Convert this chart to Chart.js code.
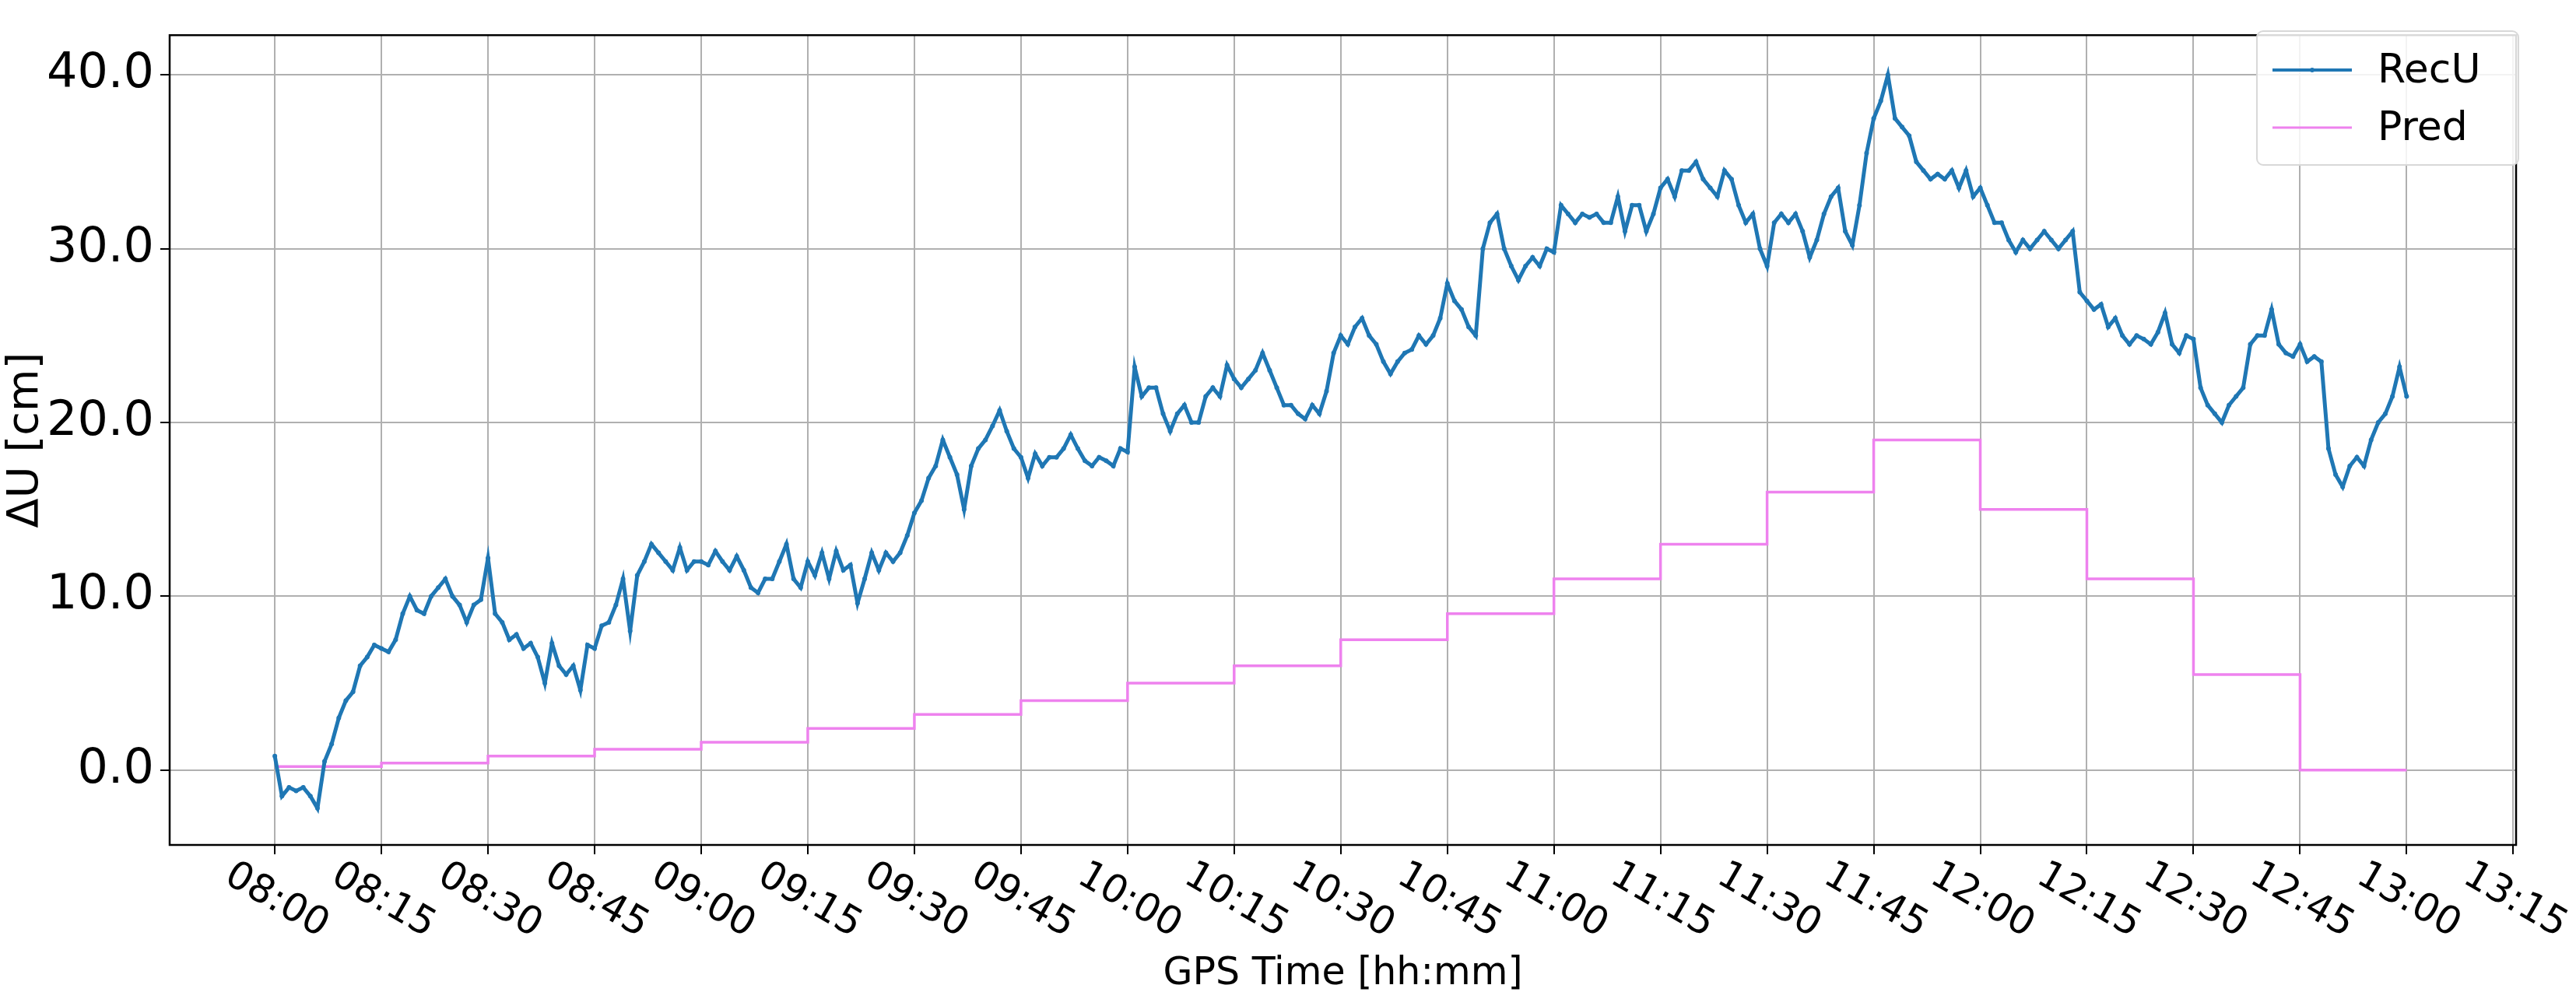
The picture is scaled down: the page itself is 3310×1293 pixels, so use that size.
<!DOCTYPE html>
<html><head><meta charset="utf-8">
<script src="https://cdn.jsdelivr.net/npm/chart.js@4"></script>
<style>html,body{margin:0;padding:0;background:#fff}#c{display:block}</style>
</head><body>
<div style="width:3310px;height:1293px"><canvas id="c" width="3310" height="1293"></canvas></div>
<script>
// minutes after 08:00
const recU = [0.8,-1.5,-1.0,-1.2,-1.0,-1.5,-2.2,0.5,1.5,3.0,4.0,4.5,6.0,6.5,7.2,7.0,6.8,7.5,9.0,10.0,9.2,9.0,10.0,10.5,11.0,10.0,9.5,8.5,9.5,9.8,
12.2,9.0,8.5,7.5,7.8,7.0,7.3,6.5,5.0,7.3,6.0,5.5,6.0,4.6,7.2,7.0,8.3,8.5,9.5,11.0,8.0,11.2,12.0,13.0,12.5,12.0,11.5,12.8,11.5,12.0,
12.0,11.8,12.6,12.0,11.5,12.3,11.5,10.5,10.2,11.0,11.0,12.0,13.0,11.0,10.5,12.0,11.2,12.5,11.0,12.6,11.5,11.8,9.6,11.0,12.5,11.5,12.5,12.0,12.5,13.5,
14.8,15.5,16.8,17.5,19.0,18.0,17.0,15.0,17.5,18.5,19.0,19.8,20.7,19.5,18.5,18.0,16.8,18.2,17.5,18.0,18.0,18.5,19.3,18.5,17.8,17.5,18.0,17.8,17.5,18.5,
18.3,23.2,21.5,22.0,22.0,20.5,19.5,20.5,21.0,20.0,20.0,21.5,22.0,21.5,23.3,22.5,22.0,22.5,23.0,24.0,23.0,22.0,21.0,21.0,20.5,20.2,21.0,20.5,21.8,24.0,
25.0,24.5,25.5,26.0,25.0,24.5,23.5,22.8,23.5,24.0,24.2,25.0,24.5,25.0,26.0,28.0,27.0,26.5,25.5,25.0,30.0,31.5,32.0,30.0,29.0,28.2,29.0,29.5,29.0,30.0,
29.8,32.5,32.0,31.5,32.0,31.8,32.0,31.5,31.5,33.0,31.0,32.5,32.5,31.0,32.0,33.5,34.0,33.0,34.5,34.5,35.0,34.0,33.5,33.0,34.5,34.0,32.5,31.5,32.0,30.0,
29.0,31.5,32.0,31.5,32.0,31.0,29.5,30.5,32.0,33.0,33.5,31.0,30.2,32.5,35.5,37.5,38.5,40.0,37.5,37.0,36.5,35.0,34.5,34.0,34.3,34.0,34.5,33.5,34.5,33.0,
33.5,32.5,31.5,31.5,30.5,29.8,30.5,30.0,30.5,31.0,30.5,30.0,30.5,31.0,27.5,27.0,26.5,26.8,25.5,26.0,25.0,24.5,25.0,24.8,24.5,25.2,26.3,24.5,24.0,25.0,
24.8,22.0,21.0,20.5,20.0,21.0,21.5,22.0,24.5,25.0,25.0,26.5,24.5,24.0,23.8,24.5,23.5,23.8,23.5,18.5,17.0,16.3,17.5,18.0,17.5,19.0,20.0,20.5,21.5,23.2,
21.5];
const predStart = [0,15,30,45,60,75,90,105,120,135,150,165,180,195,210,225,240,255,270,285,300];
const predVals  = [0.2,0.4,0.8,1.2,1.6,2.4,3.2,4.0,5.0,6.0,7.5,9.0,11.0,13.0,16.0,19.0,15.0,11.0,5.5,0,0];
const xTickLabels = ['08:00','08:15','08:30','08:45','09:00','09:15','09:30','09:45','10:00','10:15','10:30','10:45','11:00','11:15','11:30','11:45','12:00','12:15','12:30','12:45','13:00','13:15'];
const yTicks = [0,10,20,30,40];

const recData = recU.map((v,i)=>({x:i,y:v}));
const predData = predStart.map((t,i)=>({x:t,y:predVals[i]}));
const FONT = 'DejaVu Sans';

const deco = {
  id:'deco',
  afterDraw(chart){
    const {ctx, chartArea:a, scales:{x}} = chart;
    ctx.save();
    ctx.strokeStyle='#000'; ctx.lineWidth=2.5;
    ctx.strokeRect(a.left,a.top,a.right-a.left,a.bottom-a.top);
    ctx.fillStyle='#000';
    ctx.font = '50px '+FONT;
    ctx.textAlign='center'; ctx.textBaseline='middle';
    xTickLabels.forEach((lab,i)=>{
      const px = x.getPixelForValue(i*15);
      ctx.save(); ctx.translate(px+2, a.bottom+72); ctx.rotate(Math.PI/6);
      ctx.fillText(lab,0,0); ctx.restore();
    });
    ctx.font = '49px '+FONT;
    ctx.fillText('GPS Time [hh:mm]', (a.left+a.right)/2, 1252);
    // legend
    const bx=2900, by=40, bw=336, bh=172;
    ctx.fillStyle='rgba(255,255,255,0.85)'; ctx.strokeStyle='#d8d8d8'; ctx.lineWidth=2;
    ctx.beginPath(); ctx.roundRect(bx,by,bw,bh,8); ctx.fill(); ctx.stroke();
    ctx.lineWidth=4; ctx.strokeStyle='#1f77b4';
    ctx.beginPath(); ctx.moveTo(bx+20,by+50); ctx.lineTo(bx+122,by+50); ctx.stroke();
    ctx.fillStyle='#1f77b4'; ctx.beginPath(); ctx.arc(bx+71,by+50,3,0,7); ctx.fill();
    ctx.lineWidth=3; ctx.strokeStyle='#ee82ee';
    ctx.beginPath(); ctx.moveTo(bx+20,by+124); ctx.lineTo(bx+122,by+124); ctx.stroke();
    ctx.fillStyle='#000'; ctx.textAlign='left'; ctx.font='52px '+FONT;
    ctx.fillText('RecU', bx+155, by+52); ctx.fillText('Pred', bx+155, by+126);
    ctx.restore();
  }
};

new Chart(document.getElementById('c'), {
  type:'line',
  data:{datasets:[
    {label:'RecU', data:recData, borderColor:'#1f77b4', backgroundColor:'#1f77b4', borderWidth:5, pointRadius:3, pointBorderWidth:0, tension:0},
    {label:'Pred', data:predData, borderColor:'#ee82ee', borderWidth:3.5, pointRadius:0, stepped:true}
  ]},
  options:{
    responsive:false, animation:false, devicePixelRatio:1,
    layout:{padding:{top:26,right:77,left:0,bottom:0}},
    plugins:{legend:{display:false}, tooltip:{enabled:false}},
    scales:{
      x:{type:'linear', min:-14.8, max:315.4,
        afterBuildTicks(s){ s.ticks = xTickLabels.map((_,i)=>({value:i*15})); },
        afterFit(s){ s.height = 207; },
        ticks:{display:false},
        grid:{color:'#b0b0b0', lineWidth:2, tickLength:12, tickColor:'#000'},
        border:{display:false}},
      y:{min:-4.31, max:42.29,
        afterBuildTicks(s){ s.ticks = yTicks.map(v=>({value:v})); },
        afterFit(s){ s.width = 218; },
        ticks:{font:{family:FONT,size:62}, color:'#000', padding:8, callback:v=>v.toFixed(1)},
        grid:{color:'#b0b0b0', lineWidth:2, tickLength:12, tickColor:'#000'},
        border:{display:false},
        title:{display:true, text:'ΔU [cm]', font:{family:FONT,size:56}, color:'#000', padding:{top:0,bottom:-8}}}
    }
  },
  plugins:[deco]
});
</script>
</body></html>
